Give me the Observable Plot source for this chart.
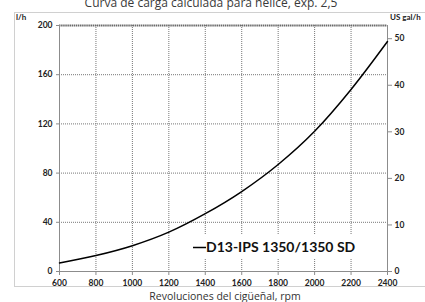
<!DOCTYPE html>
<html>
<head>
<meta charset="utf-8">
<script src="https://cdn.jsdelivr.net/npm/d3@7"></script>
<script src="https://cdn.jsdelivr.net/npm/@observablehq/plot@0.6"></script>
<style>
  html, body { margin: 0; padding: 0; background: #fff; overflow: hidden; }
  #chart { width: 425px; height: 302px; }
</style>
</head>
<body>
<div id="chart"></div>
<script>
// ---- data ----
const rpm = [600, 800, 1000, 1200, 1400, 1600, 1800, 2000, 2200, 2400];
const litersPerHour = [7, 13, 21, 32, 47, 65, 87, 114, 148, 187];
const seriesName = "D13-IPS 1350/1350 SD";
const xTicks = [600, 800, 1000, 1200, 1400, 1600, 1800, 2000, 2200, 2400];
const yTicks = [0, 40, 80, 120, 160, 200];
const galTicks = [0, 10, 20, 30, 40, 50];
const LITERS_PER_GAL = 3.78541;
const title = "Curva de carga calculada para hélice, exp. 2,5";
const xLabel = "Revoluciones del cigüeñal, rpm";
const yLabelLeft = "l/h";
const yLabelRight = "US gal/h";

const data = rpm.map((r, i) => ({rpm: r, lh: litersPerHour[i]}));
const innerX = xTicks.slice(1, -1);
const innerY = yTicks.slice(1, -1);

const tickFont = "Lato, 'Liberation Sans', sans-serif";

const svg = Plot.plot({
  width: 425,
  height: 302,
  marginLeft: 59,
  marginRight: 38,
  marginTop: 25,
  marginBottom: 31,
  style: {fontFamily: tickFont, fontSize: "8.5px", fontWeight: "bold", color: "#222", background: "#fff", overflow: "visible"},
  x: {domain: [600, 2400]},
  y: {domain: [0, 200]},
  marks: [
    Plot.ruleY(innerY, {stroke: "#777", strokeDasharray: "1,1", strokeWidth: 1}),
    Plot.ruleX(innerX, {stroke: "#777", strokeDasharray: "1,1", strokeWidth: 1}),
    Plot.ruleY([200], {stroke: "#6a6a6a", strokeWidth: 2, strokeDasharray: "1.5,0.6"}),
    Plot.ruleX([600, 2400], {stroke: "#8c8c8c", strokeWidth: 1}),
    Plot.ruleY([0], {stroke: "#8c8c8c", strokeWidth: 1}),
    Plot.axisX({ticks: xTicks, tickSize: 4, tickPadding: 4, stroke: "#8c8c8c", label: null, tickFormat: d => String(d)}),
    Plot.axisY({ticks: yTicks, tickSize: 3, tickPadding: 4, stroke: "#8c8c8c", label: null, tickFormat: d => String(d)}),
    Plot.axisY({anchor: "right", ticks: galTicks.map(g => g * LITERS_PER_GAL), tickSize: 4, tickPadding: 3, stroke: "#8c8c8c", label: null, tickFormat: d => String(Math.round(d / LITERS_PER_GAL))}),
    Plot.line(data, {x: "rpm", y: "lh", curve: "monotone-x", stroke: "#000", strokeWidth: 1.5})
  ]
});

const s = d3.select(svg);
// outer chart border
s.insert("rect", ":first-child")
  .attr("x", 14.5).attr("y", 12.5).attr("width", 430).attr("height", 274)
  .attr("fill", "none").attr("stroke", "#d0d0d0").attr("stroke-width", 1);

// title (clipped at top like reference)
s.append("text").attr("x", 211).attr("y", 7).attr("text-anchor", "middle")
  .style("font-family", "'Open Sans', sans-serif").style("font-size", "12px").style("font-weight", "normal")
  .attr("fill", "#3a3a3a").text(title);

// axis unit labels
s.append("text").attr("x", 16).attr("y", 20).attr("text-anchor", "start")
  .style("font-size", "8px").style("font-weight", "bold").attr("fill", "#222").text(yLabelLeft);
s.append("text").attr("x", 390).attr("y", 20).attr("text-anchor", "start")
  .style("font-size", "8px").style("font-weight", "bold").attr("fill", "#222").text(yLabelRight);

// x label
s.append("text").attr("x", 225).attr("y", 299.5).attr("text-anchor", "middle")
  .style("font-family", "'Open Sans', sans-serif").style("font-size", "10.5px").style("font-weight", "normal")
  .attr("fill", "#333").text(xLabel);

// legend
const lg = s.append("g");
lg.append("rect").attr("x", 190).attr("y", 234).attr("width", 168).attr("height", 24).attr("fill", "#fff");
lg.append("line").attr("x1", 193).attr("x2", 206).attr("y1", 247.5).attr("y2", 247.5)
  .attr("stroke", "#000").attr("stroke-width", 1.5);
lg.append("text").attr("x", 206).attr("y", 252).attr("text-anchor", "start")
  .style("font-family", tickFont).style("font-size", "14px").style("font-weight", "bold")
  .attr("fill", "#111").text(seriesName);

document.getElementById("chart").appendChild(svg);
</script>
</body>
</html>
